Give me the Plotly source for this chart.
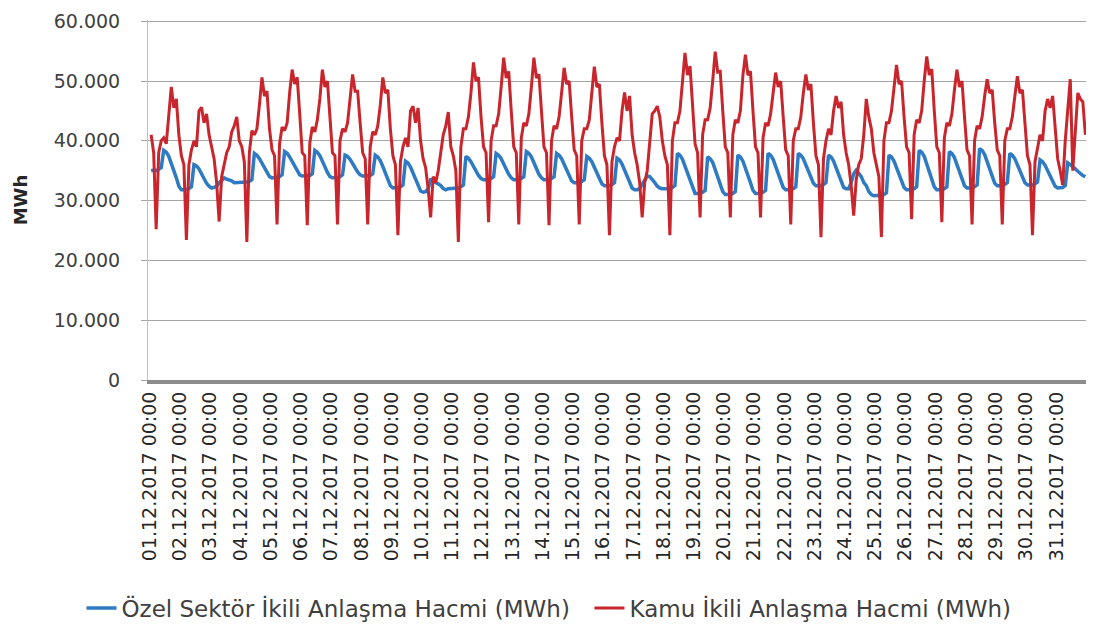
"""Özel sektör ve kamu ikili anlaşma hacimleri, Aralık 2017 (saatlik, 2 saatte bir okunan değerler)."""

import pandas as pd
import plotly.graph_objects as go

# sample hours per day: 01:00, 03:00, ... 23:00 -> 12 values per day, values in thousand MWh
ozel_k = [
    35.0, 35.1, 35.0, 35.2, 35.5, 38.4, 38.1, 37.4, 36.3, 35.0, 33.8, 32.4,  # 01.12
    31.8, 31.8, 31.9, 32.0, 32.3, 36.0, 35.8, 35.3, 34.5, 33.6, 32.9, 32.4,  # 02.12
    32.1, 32.2, 32.4, 33.0, 33.5, 33.8, 33.6, 33.5, 33.3, 33.0, 33.0, 33.0,  # 03.12
    33.0, 33.0, 33.1, 33.2, 33.5, 37.9, 37.6, 37.0, 36.2, 35.3, 34.6, 34.0,  # 04.12
    33.8, 33.8, 33.9, 34.0, 34.3, 38.2, 37.9, 37.3, 36.5, 35.6, 34.9, 34.3,  # 05.12
    34.1, 34.1, 34.1, 34.2, 34.5, 38.4, 38.1, 37.5, 36.6, 35.6, 34.7, 34.0,  # 06.12
    33.8, 33.8, 33.8, 34.0, 34.3, 37.6, 37.4, 36.9, 36.1, 35.4, 34.8, 34.3,  # 07.12
    34.1, 34.1, 34.1, 34.2, 34.5, 37.6, 37.3, 36.7, 35.7, 34.5, 33.4, 32.5,  # 08.12
    32.1, 32.1, 32.2, 32.3, 32.6, 36.6, 36.3, 35.6, 34.6, 33.5, 32.5, 31.6,  # 09.12
    31.4, 31.5, 32.0, 33.5, 33.5, 33.0, 32.8, 32.5, 32.0, 31.8, 32.0, 32.0,  # 10.12
    32.0, 32.0, 32.1, 32.3, 32.6, 37.4, 37.1, 36.5, 35.7, 34.9, 34.2, 33.7,  # 11.12
    33.5, 33.5, 33.5, 33.7, 34.0, 37.9, 37.6, 37.0, 36.1, 35.2, 34.4, 33.8,  # 12.12
    33.5, 33.5, 33.5, 33.7, 34.0, 38.2, 37.9, 37.3, 36.3, 35.3, 34.4, 33.8,  # 13.12
    33.5, 33.5, 33.5, 33.7, 34.0, 37.9, 37.6, 37.0, 36.0, 35.0, 34.1, 33.3,  # 14.12
    33.0, 33.0, 33.0, 33.2, 33.5, 37.4, 37.1, 36.5, 35.6, 34.6, 33.7, 32.8,  # 15.12
    32.5, 32.5, 32.5, 32.7, 33.0, 37.1, 36.8, 36.1, 35.1, 34.0, 33.0, 32.1,  # 16.12
    31.8, 31.8, 32.0, 32.8, 33.6, 34.1, 34.0, 33.6, 33.0, 32.4, 32.1, 32.0,  # 17.12
    32.0, 32.0, 32.0, 32.2, 32.5, 37.9, 37.6, 36.9, 35.8, 34.5, 33.2, 32.2,  # 18.12
    31.2, 31.2, 31.2, 31.4, 31.7, 37.3, 37.0, 36.4, 35.2, 34.0, 32.8, 31.5,  # 19.12
    31.0, 31.0, 31.0, 31.2, 31.5, 37.6, 37.3, 36.6, 35.5, 34.2, 33.0, 31.7,  # 20.12
    31.2, 31.2, 31.2, 31.4, 31.7, 37.9, 37.6, 36.9, 35.8, 34.6, 33.4, 32.2,  # 21.12
    31.8, 31.8, 31.8, 32.0, 32.3, 37.9, 37.6, 37.0, 36.0, 34.9, 33.9, 32.9,  # 22.12
    32.5, 32.5, 32.5, 32.7, 33.0, 37.6, 37.3, 36.6, 35.5, 34.3, 33.1, 32.2,  # 23.12
    32.0, 32.0, 33.0, 34.5, 35.1, 34.5, 34.0, 33.0, 32.5, 31.5, 31.0, 30.8,  # 24.12
    30.8, 30.8, 30.9, 31.0, 31.3, 37.6, 37.3, 36.6, 35.5, 34.3, 33.1, 32.2,  # 25.12
    31.8, 31.8, 31.8, 32.0, 32.3, 38.4, 38.1, 37.4, 36.2, 34.9, 33.5, 32.3,  # 26.12
    31.8, 31.8, 31.8, 32.0, 32.3, 38.2, 37.9, 37.2, 36.1, 34.9, 33.6, 32.5,  # 27.12
    32.1, 32.1, 32.1, 32.3, 32.6, 38.7, 38.4, 37.7, 36.6, 35.3, 34.0, 32.9,  # 28.12
    32.5, 32.5, 32.5, 32.7, 33.0, 37.9, 37.6, 37.0, 36.0, 35.0, 33.9, 33.0,  # 29.12
    32.6, 32.6, 32.6, 32.8, 33.1, 36.8, 36.5, 35.9, 35.0, 34.0, 33.1, 32.4,  # 30.12
    32.1, 32.1, 32.2, 32.5, 36.3, 36.0, 35.7, 35.3, 34.9, 34.5, 34.2, 34.0,  # 31.12
]

kamu_k = [
    41.0, 38.0, 25.2, 38.0, 40.0, 40.5, 39.5, 44.0, 49.0, 45.5, 47.0, 41.0,  # 01.12
    37.5, 36.0, 23.4, 36.0, 38.5, 40.0, 39.0, 45.0, 45.6, 43.0, 44.5, 41.0,  # 02.12
    39.0, 37.0, 33.0, 26.5, 34.0, 36.0, 38.0, 39.0, 41.5, 42.5, 44.0, 40.0,  # 03.12
    39.0, 36.5, 23.1, 38.0, 41.7, 41.0, 42.0, 46.0, 50.6, 47.5, 48.3, 42.0,  # 04.12
    38.5, 37.5, 26.0, 39.5, 42.3, 41.7, 43.0, 48.0, 51.9, 49.5, 50.6, 44.5,  # 05.12
    38.0, 37.5, 25.9, 39.6, 42.3, 41.5, 43.5, 47.0, 51.9, 49.0, 50.0, 44.0,  # 06.12
    38.0, 37.5, 26.0, 40.0, 42.0, 41.5, 43.0, 47.0, 51.1, 48.3, 48.3, 43.0,  # 07.12
    38.0, 37.0, 26.0, 39.0, 41.5, 41.0, 42.5, 46.0, 50.6, 48.0, 48.5, 42.0,  # 08.12
    37.5, 36.0, 24.2, 36.5, 39.0, 40.5, 39.0, 45.0, 45.8, 43.0, 45.5, 40.0,  # 09.12
    37.0, 35.5, 32.0, 27.2, 34.0, 33.0, 35.0, 38.0, 41.0, 42.5, 44.8, 39.0,  # 10.12
    37.5, 35.0, 23.1, 39.0, 42.0, 42.0, 44.0, 48.0, 53.1, 50.0, 50.6, 44.0,  # 11.12
    39.0, 38.0, 26.4, 40.0, 42.5, 42.5, 44.5, 49.0, 53.9, 50.5, 51.6, 45.0,  # 12.12
    39.0, 38.0, 26.0, 40.5, 43.0, 42.5, 44.5, 49.0, 53.9, 50.5, 51.1, 45.0,  # 13.12
    39.0, 38.0, 25.9, 40.0, 42.5, 42.0, 44.0, 48.0, 52.2, 49.5, 50.0, 44.0,  # 14.12
    38.5, 37.5, 26.0, 40.0, 42.0, 42.0, 43.5, 48.0, 52.4, 49.0, 49.5, 43.0,  # 15.12
    37.5, 36.0, 24.2, 36.5, 39.0, 40.5, 40.0, 45.0, 48.1, 45.0, 47.5, 41.0,  # 16.12
    38.0, 36.0, 33.0, 27.2, 33.0, 35.0, 40.0, 44.5, 45.0, 45.8, 44.0, 40.0,  # 17.12
    37.5, 36.0, 24.2, 40.0, 43.0, 43.0, 45.0, 50.0, 54.7, 51.0, 52.5, 46.0,  # 18.12
    39.5, 38.0, 27.2, 41.0, 43.5, 43.5, 45.5, 50.0, 54.9, 51.5, 51.6, 45.0,  # 19.12
    39.0, 38.0, 27.2, 41.0, 43.5, 43.0, 45.0, 51.0, 54.4, 51.0, 51.6, 45.0,  # 20.12
    39.0, 38.0, 27.2, 40.5, 43.0, 42.5, 44.5, 48.0, 51.4, 49.0, 50.0, 44.0,  # 21.12
    38.5, 37.5, 26.0, 40.0, 42.0, 42.0, 44.0, 48.0, 51.1, 48.5, 49.5, 43.0,  # 22.12
    37.5, 36.0, 23.9, 37.0, 40.0, 42.0, 41.0, 45.0, 47.5, 45.5, 46.5, 41.0,  # 23.12
    38.0, 36.0, 32.5, 27.5, 33.5, 36.0, 37.0, 41.0, 47.0, 44.0, 42.0, 38.0,  # 24.12
    36.0, 34.0, 23.9, 40.0, 43.0, 43.0, 45.0, 49.0, 52.7, 49.5, 50.0, 44.0,  # 25.12
    39.0, 38.0, 26.9, 41.0, 43.5, 43.0, 45.0, 50.0, 54.1, 51.0, 52.0, 45.0,  # 26.12
    39.0, 38.0, 26.4, 40.5, 43.0, 42.5, 44.5, 48.5, 51.9, 49.0, 50.0, 44.0,  # 27.12
    38.5, 37.5, 26.0, 40.0, 42.5, 42.0, 44.0, 47.5, 50.3, 48.0, 48.5, 43.0,  # 28.12
    38.5, 37.5, 26.0, 40.0, 42.0, 42.0, 44.0, 47.5, 50.8, 48.0, 48.5, 43.0,  # 29.12
    37.5, 36.0, 24.2, 36.5, 39.0, 41.0, 40.0, 45.0, 47.0, 45.5, 47.5, 41.7,  # 30.12
    37.0, 35.0, 32.6, 40.0, 46.0, 50.3, 35.0, 42.0, 48.0, 47.0, 46.5, 41.0,  # 31.12
]

day_labels = [f"{d:02d}.12.2017 00:00" for d in range(1, 32)]

times = pd.date_range("2017-12-01 01:00", periods=len(kamu_k), freq="2h")
day_starts = pd.date_range("2017-12-01", periods=31, freq="D")

fig = go.Figure()
fig.add_trace(go.Scatter(
    x=times, y=[v * 1000 for v in ozel_k], mode="lines",
    # trailing no-break spaces widen the gap between the two legend entries
    name="Özel Sektör İkili Anlaşma Hacmi (MWh)\u00a0\u00a0",
    line=dict(color="#2E7BC4", width=3.5),
))
fig.add_trace(go.Scatter(
    x=times, y=[v * 1000 for v in kamu_k], mode="lines",
    name="Kamu İkili Anlaşma Hacmi (MWh)",
    line=dict(color="#C8262C", width=3),
))

# the page body adds an 8px offset, so the figure is 8px smaller than the window
fig.update_layout(
    width=1094, height=624,
    paper_bgcolor="white", plot_bgcolor="white",
    font=dict(family="DejaVu Sans, sans-serif", color="#404040", size=18),
    separators=",.",
    margin=dict(l=140, r=16, t=12, b=252),
    showlegend=True,
    legend=dict(
        orientation="h", xref="container", yref="container",
        x=0.4945, xanchor="center", y=0.0385, yanchor="middle",
        font=dict(size=23, color="#404040"), itemwidth=30,
    ),
    xaxis=dict(
        type="date", automargin=False,
        range=["2017-11-30 22:30", "2017-12-31 23:30"],
        tickmode="array", tickvals=day_starts, ticktext=day_labels,
        tickangle=-90, tickfont=dict(size=19, color="#262626"),
        showgrid=False, zeroline=False,
        showline=True, linecolor="#8C8C8C", linewidth=4,
        ticks="", fixedrange=True,
    ),
    yaxis=dict(
        automargin=False,
        # a little headroom keeps the 60.000 grid line inside the plot area
        range=[0, 60200], tickvals=[0, 10000, 20000, 30000, 40000, 50000, 60000],
        tickformat=",d", tickfont=dict(size=19, color="#404040"),
        ticklabeloverflow="allow",
        showgrid=True, gridcolor="#A6A6A6", gridwidth=1,
        zeroline=False, showline=True, linecolor="#BFBFBF", linewidth=1,
        ticks="outside", ticklen=6, tickcolor="#A6A6A6",
        ticklabelstandoff=17,
        title=dict(text="<b>MWh</b>", font=dict(size=18, color="#262626"), standoff=21),
    ),
)

fig.write_html("out.html")
